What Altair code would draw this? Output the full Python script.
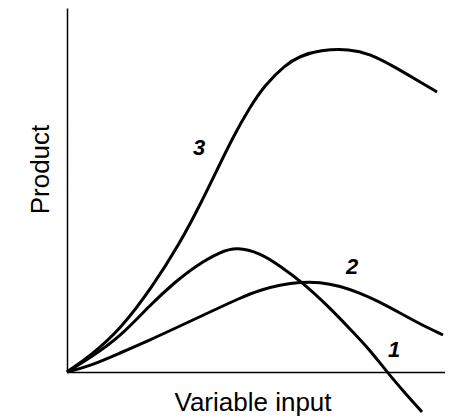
import altair as alt
import pandas as pd

# Curve values (input units 0..378, product units 0..364)
x1 = [0, 23, 53, 83, 108, 130, 153, 170, 193, 213, 235, 263, 283, 303, 320, 338, 355]
y1 = [0, 14, 35, 67, 90, 107, 120, 125, 119, 106, 90, 64, 43, 22, 0, -21, -40]

x2 = [0, 23, 53, 83, 113, 143, 173, 193, 213, 233, 253, 273, 293, 313, 333, 353, 376]
y2 = [0, 6, 19, 32, 46, 60, 74, 82, 87, 90, 90, 86, 79, 70, 59, 48, 37]

x3 = [0, 23, 53, 86, 113, 133, 150, 166, 183, 198, 218, 233, 253, 283, 303, 326, 348, 370]
y3 = [0, 16, 42, 86, 129, 167, 202, 235, 265, 287, 307, 316, 322, 323, 318, 306, 293, 280]

labels = ["1", "2", "3"]
label_x = [327, 285, 132]
label_y = [22, 105, 224]

rows = []
for name, xs, ys in [("1", x1, y1), ("2", x2, y2), ("3", x3, y3)]:
    for i, (a, b) in enumerate(zip(xs, ys)):
        rows.append({"curve": name, "order": i, "input": a, "product": b})
df = pd.DataFrame(rows)
lab = pd.DataFrame({"label": labels, "input": label_x, "product": label_y})

xs = alt.Scale(domain=[0, 378], nice=False, zero=False)
ys = alt.Scale(domain=[0, 364], nice=False, zero=False)

lines = alt.Chart(df).mark_line(
    color="black", strokeWidth=3, interpolate="basis"
).encode(
    x=alt.X("input:Q", scale=xs, axis=alt.Axis(
        title="Variable input", labels=False, ticks=False, grid=False,
        domainColor="black", domainWidth=1.5,
        titleFont="Liberation Sans", titleFontSize=26, titleFontWeight="normal",
        titleColor="black", titleX=185.5, titleY=38, titleBaseline="alphabetic")),
    y=alt.Y("product:Q", scale=ys, axis=alt.Axis(
        title="Product", labels=False, ticks=False, grid=False,
        domainColor="black", domainWidth=1.5,
        titleFont="Liberation Sans", titleFontSize=26, titleFontWeight="normal",
        titleColor="black", titleX=-19, titleY=161, titleBaseline="alphabetic")),
    detail="curve:N",
    order="order:Q",
)

texts = alt.Chart(lab).mark_text(
    font="Liberation Sans", fontSize=22, fontWeight="bold", fontStyle="italic",
    color="black", align="center", baseline="middle"
).encode(
    x=alt.X("input:Q", scale=xs),
    y=alt.Y("product:Q", scale=ys),
    text="label:N",
)

chart = (lines + texts).properties(
    width=378, height=364,
    autosize=alt.AutoSizeParams(type="none"),
    padding={"left": 59, "top": 0, "right": 0, "bottom": 46},
    background="white",
).configure_view(stroke=None)

chart.save("out.html", embed_options={"renderer": "svg", "actions": False})
